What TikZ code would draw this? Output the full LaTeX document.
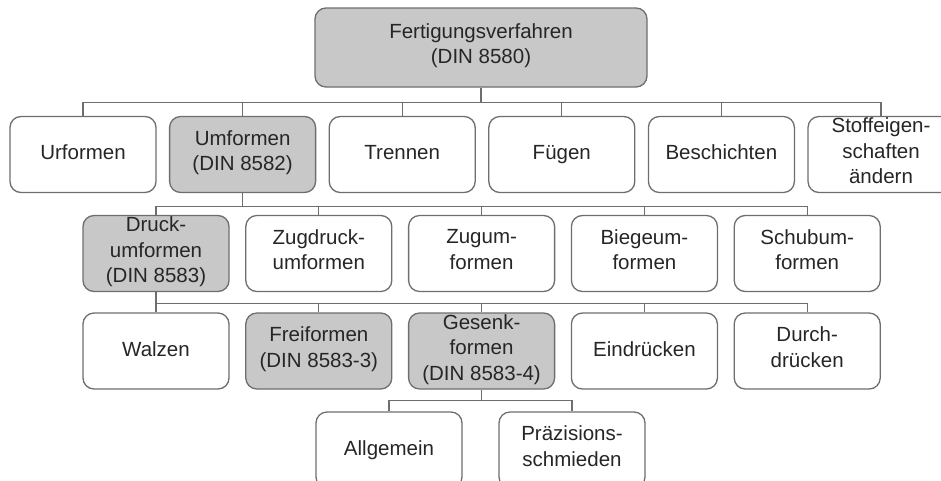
\documentclass[tikz,border=0pt]{standalone}
\usepackage{fontspec}
\setmainfont{Liberation Sans}
\usetikzlibrary{calc}
\definecolor{boxgray}{RGB}{200,200,200}
\definecolor{linegray}{RGB}{110,110,110}

\begin{document}
\begin{tikzpicture}[x=1pt, y=-1pt,
  box/.style={rectangle, rounded corners=11pt, draw=linegray, line width=1.3pt, fill=white,
    minimum width=146pt, minimum height=76pt, inner sep=0pt, align=center,
    font=\fontsize{20.5}{25.5}\selectfont, text=black!85,
    execute at begin node=\strut, execute at end node=\strut},
  norm/.style={box, fill=boxgray},
  link/.style={draw=linegray, line width=1.3pt}]
  \useasboundingbox (0,0) rectangle (941,480);

  % Wurzel
  \node[norm, minimum width=332pt, minimum height=79pt] (fv) at (481,47.5) {Fertigungsverfahren\\(DIN 8580)};

  % Hauptgruppen
  \foreach \n/\s/\t [count=\i from 0] in {ur/box/Urformen, um/norm/{Umformen\\(DIN 8582)},
      tr/box/Trennen, fg/box/F\"ugen, bs/box/Beschichten, st/box/{Stoffeigen-\\schaften\\\"andern}}
  {
    \node[\s] (\n) at ({83+159.6*\i}, 154.5) {\t};
    \draw[link] (fv.south) -- ++(0,15) -| (\n.north);
  }

  % Umformen
  \foreach \n/\s/\t [count=\i from 0] in {du/norm/{Druck-\\umformen\\(DIN 8583)}, zd/box/{Zugdruck-\\umformen},
      zu/box/{Zugum-\\formen}, bi/box/{Biegeum-\\formen}, sb/box/{Schubum-\\formen}}
  {
    \node[\s] (\n) at ({156+162.8*\i}, 253.5) {\t};
    \draw[link] (um.south) -- ++(0,13) -| (\n.north);
  }

  % Druckumformen
  \foreach \n/\s/\t [count=\i from 0] in {wa/box/Walzen, fr/norm/{Freiformen\\(DIN 8583-3)},
      gs/norm/{Gesenk-\\formen\\(DIN 8583-4)}, ei/box/Eindr\"ucken, dd/box/{Durch-\\dr\"ucken}}
  {
    \node[\s] (\n) at ({156+162.8*\i}, 351) {\t};
    \draw[link] (du.south) -- ++(0,11) -| (\n.north);
  }

  % Gesenkformen
  \foreach \n/\t [count=\i from 0] in {al/Allgemein, pz/{Pr\"azisions-\\schmieden}}
  {
    \node[box] (\n) at ({389+183*\i}, 450) {\t};
    \draw[link] (gs.south) -- ++(0,11) -| (\n.north);
  }
\end{tikzpicture}
\end{document}
